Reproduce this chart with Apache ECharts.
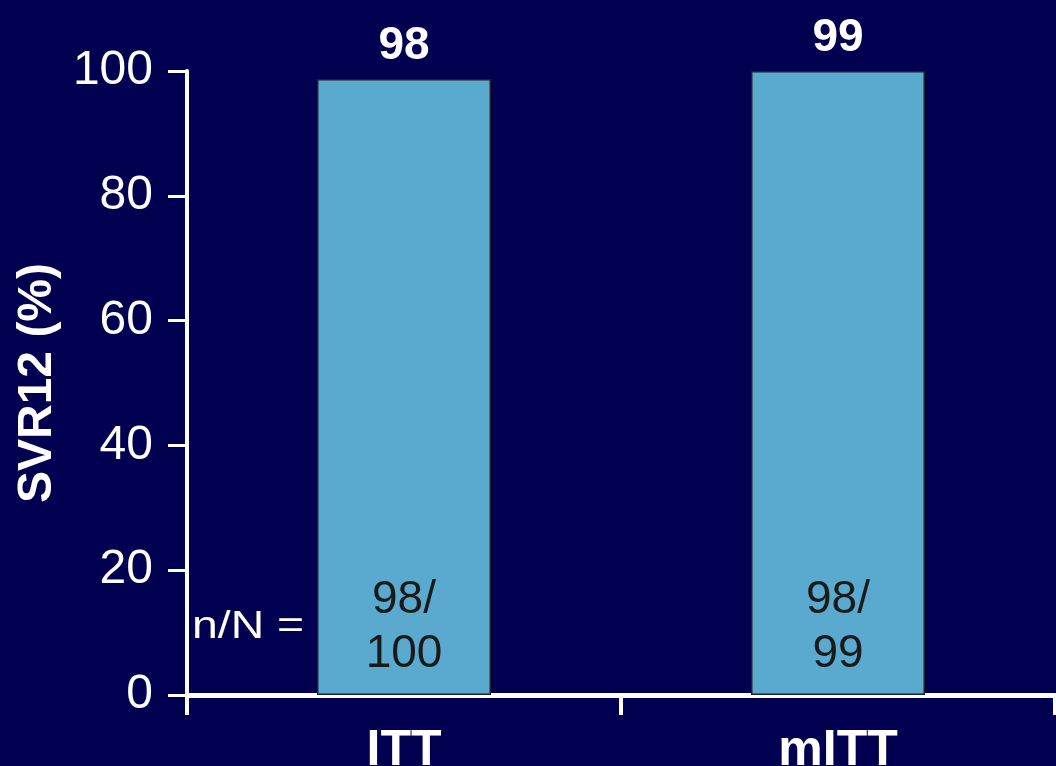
<!DOCTYPE html>
<html>
<head>
<meta charset="utf-8">
<script src="https://cdn.jsdelivr.net/npm/echarts@6/dist/echarts.min.js"></script>
<style>
  html, body { margin: 0; padding: 0; background: #010050; }
  #chart { width: 1056px; height: 766px; }
</style>
</head>
<body>
<div id="chart"></div>
<script>
var categories = ['ITT', 'mITT'];
// bar heights as drawn in the picture
var barValues = [98.7, 100];
var topLabels = ['98', '99'];
var countLabels = ['98/\n100', '98/\n99'];
var yTicks = [0, 20, 40, 60, 80, 100];

var font = 'Liberation Sans, Arial, sans-serif';
var chart = echarts.init(document.getElementById('chart'));

var option = {
    backgroundColor: '#010050',
    animation: false,
    grid: { left: 187, right: 1, top: 71, bottom: 71, outerBoundsMode: 'none', containLabel: false },
    xAxis: {
        type: 'category',
        data: categories,
        axisLine: { lineStyle: { color: '#fff', width: 5 } },
        axisTick: { show: true, length: 20, lineStyle: { color: '#fff', width: 4 } },
        axisLabel: { color: '#fff', fontSize: 50, fontWeight: 'bold', fontFamily: font, margin: 31 }
    },
    yAxis: {
        type: 'value',
        min: yTicks[0],
        max: yTicks[yTicks.length - 1],
        interval: 20,
        name: 'SVR12 (%)',
        nameLocation: 'middle',
        nameRotate: 90,
        nameGap: 119,
        nameTextStyle: { color: '#fff', fontSize: 48, fontWeight: 'bold', fontFamily: font },
        splitLine: { show: false },
        axisLine: { show: true, lineStyle: { color: '#fff', width: 4 } },
        axisTick: { show: true, length: 19, lineStyle: { color: '#fff', width: 3 } },
        axisLabel: { color: '#fff', fontSize: 48, fontFamily: font, margin: 34 }
    },
    series: [{
        type: 'bar',
        data: barValues,
        barWidth: 174,
        itemStyle: { color: '#5aaacf', borderColor: '#222', borderWidth: 1.5 },
        label: {
            show: true,
            position: 'top',
            distance: 10,
            color: '#fff',
            fontSize: 46,
            fontWeight: 'bold',
            fontFamily: font,
            formatter: function (p) { return topLabels[p.dataIndex]; }
        }
    }, {
        type: 'bar',
        data: barValues,
        barWidth: 174,
        barGap: '-100%',
        silent: true,
        itemStyle: { color: 'transparent' },
        label: {
            show: true,
            position: 'insideBottom',
            distance: 14,
            color: '#1a1a1a',
            fontSize: 46,
            lineHeight: 54,
            fontFamily: font,
            formatter: function (p) { return countLabels[p.dataIndex]; }
        }
    }],
    graphic: [{
        type: 'text',
        x: 192,
        y: 609,
        scaleX: 1.22,
        style: { text: 'n/N =', fill: '#fff', font: '38px ' + font }
    }]
};
chart.setOption(option);
</script>
</body>
</html>
